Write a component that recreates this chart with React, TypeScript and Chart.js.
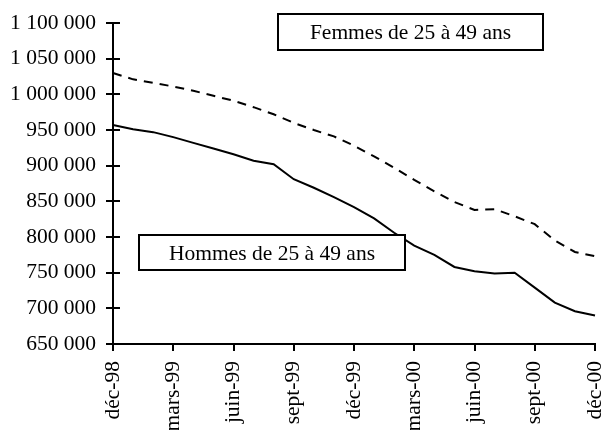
import React, { useEffect, useRef } from "react";
import { Chart, registerables } from "chart.js";

Chart.register(...registerables);

const months = [
  "déc-98", "janv-99", "févr-99", "mars-99", "avr-99", "mai-99", "juin-99", "juil-99", "août-99",
  "sept-99", "oct-99", "nov-99", "déc-99", "janv-00", "févr-00", "mars-00", "avr-00", "mai-00",
  "juin-00", "juil-00", "août-00", "sept-00", "oct-00", "nov-00", "déc-00",
];

const femmes = [
  1030000, 1021000, 1016000, 1011000, 1005000, 998000, 991000, 982000, 972000,
  960000, 950000, 941000, 928000, 913000, 897000, 880000, 864000, 849000,
  838000, 839000, 829000, 818000, 795000, 779000, 773000,
];

const hommes = [
  957000, 951000, 947000, 940000, 932000, 924000, 916000, 907000, 902000,
  881000, 869000, 856000, 842000, 826000, 806000, 788000, 775000, 758000,
  752000, 749000, 750000, 729000, 708000, 696000, 690000,
];

const yMin = 650000;
const yMax = 1100000;
const yStep = 50000;
const labelEvery = 3;

const seriesNames = ["Femmes de 25 à 49 ans", "Hommes de 25 à 49 ans"];

// annotation boxes, in data coordinates (x = month index, y = value)
const boxFemmes = { x0: 8.2, x1: 21.4, yTop: 1113000, yBottom: 1061600 };
const boxHommes = { x0: 1.3, x1: 14.53, yTop: 803200, yBottom: 754100 };

const FONT = "'Liberation Serif', 'Times New Roman', serif";
const FS = 21.5;

function fmt(v: number): string {
  return String(Math.round(v)).replace(/\B(?=(\d{3})+(?!\d))/g, " ");
}

const decorPlugin = {
  id: "decor",
  afterDraw(chart: any) {
    const ctx = chart.ctx as CanvasRenderingContext2D;
    const xs = chart.scales.x;
    const ys = chart.scales.y;
    const area = chart.chartArea;
    ctx.save();
    ctx.strokeStyle = "#000";
    ctx.lineWidth = 2;
    ys.ticks.forEach((t: any) => {
      const y = Math.round(ys.getPixelForValue(t.value));
      ctx.beginPath();
      ctx.moveTo(area.left - 7, y);
      ctx.lineTo(area.left + 7, y);
      ctx.stroke();
    });
    months.forEach((_, i) => {
      if (i % labelEvery !== 0) return;
      const x = Math.round(xs.getPixelForValue(i));
      ctx.beginPath();
      ctx.moveTo(x, area.bottom);
      ctx.lineTo(x, area.bottom + 7);
      ctx.stroke();
    });
    const boxes = [
      { b: boxFemmes, text: seriesNames[0] },
      { b: boxHommes, text: seriesNames[1] },
    ];
    boxes.forEach(({ b, text }) => {
      const l = Math.round(xs.getPixelForValue(b.x0));
      const r = Math.round(xs.getPixelForValue(b.x1));
      const t = Math.round(ys.getPixelForValue(b.yTop));
      const bt = Math.round(ys.getPixelForValue(b.yBottom));
      ctx.fillStyle = "#fff";
      ctx.fillRect(l, t, r - l, bt - t);
      ctx.lineWidth = 2;
      ctx.strokeStyle = "#000";
      ctx.strokeRect(l, t, r - l, bt - t);
      ctx.fillStyle = "#000";
      ctx.font = `${FS}px ${FONT}`;
      ctx.textAlign = "center";
      ctx.textBaseline = "alphabetic";
      ctx.fillText(text, (l + r) / 2, t + 25.3);
    });
    ctx.restore();
  },
};

export default function App() {
  const ref = useRef<HTMLCanvasElement | null>(null);
  useEffect(() => {
    if (!ref.current) return;
    const chart = new Chart(ref.current, {
      type: "line",
      data: {
        labels: months,
        datasets: [
          {
            label: seriesNames[0],
            data: femmes,
            borderColor: "#000",
            borderWidth: 2,
            borderDash: [9, 7],
            pointRadius: 0,
            tension: 0,
            fill: false,
          },
          {
            label: seriesNames[1],
            data: hommes,
            borderColor: "#000",
            borderWidth: 2,
            pointRadius: 0,
            tension: 0,
            fill: false,
          },
        ],
      },
      options: {
        animation: false,
        responsive: false,
        events: [],
        layout: { padding: { top: 23, right: 7, left: 0, bottom: 0 } },
        plugins: {
          legend: { display: false },
          tooltip: { enabled: false },
          title: { display: false },
        },
        scales: {
          x: {
            type: "category",
            offset: false,
            grid: { display: false, drawTicks: false },
            border: { display: true, color: "#000", width: 2 },
            ticks: {
              autoSkip: false,
              minRotation: 90,
              maxRotation: 90,
              padding: 17,
              color: "#000",
              font: { family: FONT, size: FS },
              callback: (_v: any, i: number) => (i % labelEvery === 0 ? months[i] : ""),
            },
            afterFit: (s: any) => {
              s.height = 86;
              s.paddingLeft = 0;
              s.paddingRight = 0;
            },
          },
          y: {
            min: yMin,
            max: yMax,
            grid: { display: false, drawTicks: false },
            border: { display: true, color: "#000", width: 2 },
            ticks: {
              stepSize: yStep,
              padding: 17,
              color: "#000",
              font: { family: FONT, size: FS },
              callback: (v: any) => fmt(Number(v)),
            },
            afterFit: (s: any) => {
              s.width = 113;
              s.paddingTop = 0;
              s.paddingBottom = 0;
            },
          },
        },
      },
      plugins: [decorPlugin],
    });
    return () => chart.destroy();
  }, []);
  return (
    <div style={{ position: "absolute", left: 0, top: 0, width: 602, height: 430, background: "#fff" }}>
      <canvas ref={ref} width={602} height={430} style={{ display: "block" }} />
    </div>
  );
}
